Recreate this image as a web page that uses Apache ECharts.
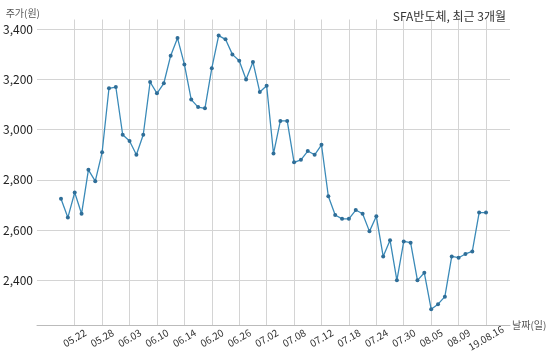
<!DOCTYPE html>
<html>
<head>
<meta charset="utf-8">
<script src="https://cdn.jsdelivr.net/npm/echarts@6/dist/echarts.min.js"></script>
<style>html,body{margin:0;padding:0;background:#fff}#c{width:550px;height:360px}</style>
</head>
<body>
<div id="c"></div>
<script>
// Trading days (2019), last label carries year
var dates = ["05.20","05.21","05.22","05.23","05.24","05.27","05.28","05.29","05.30","05.31",
  "06.03","06.04","06.05","06.07","06.10","06.11","06.12","06.13","06.14","06.17","06.18","06.19","06.20","06.21","06.24","06.25","06.26","06.27","06.28",
  "07.01","07.02","07.03","07.04","07.05","07.08","07.09","07.10","07.11","07.12","07.15","07.16","07.17","07.18","07.19","07.22","07.23","07.24","07.25","07.26","07.29","07.30","07.31",
  "08.01","08.02","08.05","08.06","08.07","08.08","08.09","08.12","08.13","08.14","19.08.16"];
var prices = [2725,2650,2750,2665,2840,2795,2910,3165,3170,2980,
  2955,2900,2980,3190,3145,3185,3295,3365,3260,3120,3090,3085,3245,3375,3360,3300,3275,3200,3270,
  3150,3175,2905,3035,3035,2870,2880,2915,2900,2940,2735,2660,2645,2645,2680,2665,2595,2655,2495,2560,2400,2555,2550,
  2400,2430,2285,2305,2335,2495,2490,2505,2515,2670,2670];
var yTicks = [2400,2600,2800,3000,3200,3400];
var titleText = "SFA반도체, 최근 3개월";
var yName = "주가(원)";
var xName = "날짜(일)";

var PAD = 3;
var cats = [], vals = [];
for (var k = 0; k < PAD; k++) { cats.push(" ".repeat(k + 1)); vals.push(null); }
dates.forEach(function (d, i) { cats.push(d); vals.push(prices[i]); });
for (var k = 0; k < PAD; k++) { cats.push(" ".repeat(PAD + k + 1)); }
function labeled(idx) { var j = idx - PAD; return j >= 2 && j < dates.length && (j - 2) % 4 === 0; }

var font = "'Noto Sans CJK KR', 'Noto Sans', sans-serif";
var chart = echarts.init(document.getElementById('c'), null, {renderer: 'canvas'});
chart.setOption({
  animation: false,
  textStyle: {fontFamily: font},
  title: {text: titleText, right: 39, top: 5, textStyle: {fontSize: 12, fontWeight: 'normal', color: '#333', fontFamily: font}},
  grid: {left: 37, right: 40, top: 19.5, bottom: 35, containLabel: false},
  xAxis: {
    type: 'category', data: cats, boundaryGap: true,
    name: xName, nameLocation: 'end', nameGap: 2,
    nameTextStyle: {fontSize: 10, color: '#555', verticalAlign: 'middle', align: 'left', padding: [14, 0, 0, 0]},
    axisLine: {lineStyle: {color: '#bbb'}},
    axisTick: {show: false},
    axisLabel: {interval: function (i) { return labeled(i); }, rotate: 30, align: 'center', verticalAlign: 'middle', margin: 13, fontSize: 10, color: '#333'},
    splitLine: {show: true, alignWithLabel: true, interval: function (i) { return labeled(i); }, lineStyle: {color: '#d4d4d4', width: 1}}
  },
  yAxis: {
    type: 'value', min: 2222, max: 3439, splitNumber: 6,
    name: yName, nameLocation: 'end', nameGap: 6,
    nameTextStyle: {fontSize: 10, color: '#555', align: 'right', verticalAlign: 'middle', padding: [0, -3, 0, 0]},
    axisLine: {show: false}, axisTick: {show: false},
    axisLabel: {showMinLabel: false, showMaxLabel: false, margin: 4, fontSize: 12, color: '#222',
      formatter: function (v) { return yTicks.indexOf(v) >= 0 ? v.toLocaleString('en-US') : ''; }},
    splitLine: {show: true, showMinLine: false, showMaxLine: false, lineStyle: {color: '#d4d4d4', width: 1}}
  },
  series: [{
    type: 'line', data: vals, connectNulls: false,
    symbol: 'circle', symbolSize: 4,
    lineStyle: {color: '#3a8ab8', width: 1.3},
    itemStyle: {color: '#2f6e98'}
  }]
});
</script>
</body>
</html>
